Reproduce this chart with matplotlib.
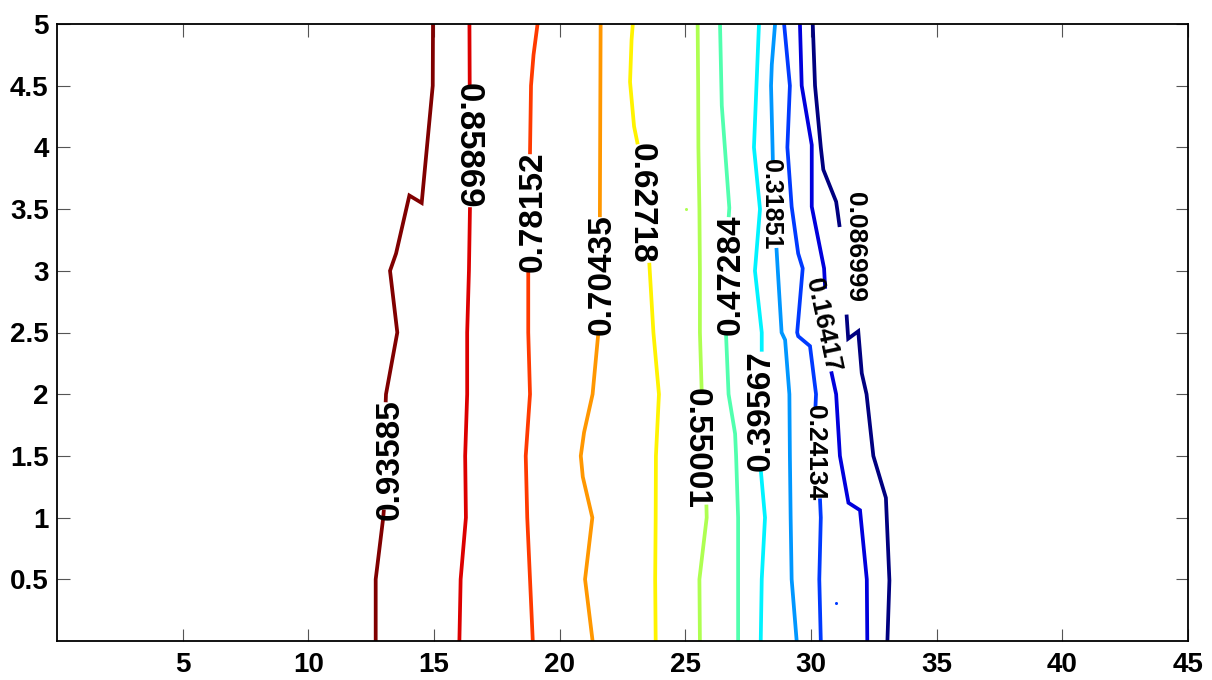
import matplotlib
matplotlib.use("Agg")
import matplotlib.pyplot as plt
import numpy as np

nan = np.nan

# contour levels (low -> high), jet colours
levels = [0.086999, 0.16417, 0.24134, 0.31851, 0.39567, 0.47284,
          0.55001, 0.62718, 0.70435, 0.78152, 0.85869, 0.93585]

# contour vertices, nan = gap where the label sits
x_l01 = [33.04, 33.12, 32.98, 32.48, 32.21, 32.02, 31.88, 31.48, 31.42, nan, 31.13, 31.05, 31.00, 30.49, 30.39, 30.16, 30.07]
y_l01 = [0.00, 0.49, 1.16, 1.50, 2.00, 2.17, 2.51, 2.45, 2.63, nan, 3.37, 3.49, 3.56, 3.82, 4.00, 4.50, 5.00]

x_l02 = [32.24, 32.22, 31.95, 31.49, 31.15, 31.00, 30.82, nan, 30.56, 30.52, 30.03, 30.03, 29.63, 29.56]
y_l02 = [0.00, 0.50, 1.06, 1.12, 1.50, 2.00, 2.17, nan, 2.87, 3.02, 3.52, 4.02, 4.50, 5.00]

x_l03 = [30.39, 30.33, 30.39, 30.36, nan, 30.18, 30.20, 29.96, 29.49, 29.45, 29.67, 29.49, 29.23, 29.06, 29.16, 28.93]
y_l03 = [0.00, 0.50, 1.00, 1.14, nan, 1.91, 2.00, 2.39, 2.47, 2.50, 3.02, 3.14, 3.52, 4.00, 4.50, 5.00]

x_l04 = [29.43, 29.23, 29.19, 29.16, 29.14, 28.97, 28.83, 28.68, 28.63, nan, 28.48, 28.47, 28.41, 28.44, 28.57]
y_l04 = [0.00, 0.50, 1.00, 1.50, 2.00, 2.44, 2.50, 3.00, 3.17, nan, 3.91, 4.00, 4.50, 4.67, 5.00]

x_l05 = [28.00, 28.04, 28.17, 28.00, nan, 28.04, 28.04, 27.77, 27.97, 27.73, 27.83, 27.93]
y_l05 = [0.00, 0.50, 1.00, 1.39, nan, 2.36, 2.50, 3.00, 3.50, 4.00, 4.50, 5.00]

x_l06 = [27.10, 27.10, 27.10, 27.02, 26.98, 26.72, 26.62, nan, 26.73, 26.75, 26.45, 26.38]
y_l06 = [0.00, 0.50, 1.00, 1.50, 1.68, 2.00, 2.48, nan, 3.45, 3.51, 4.34, 5.00]

x_l07 = [25.58, 25.56, 25.85, 25.84, nan, 25.65, 25.58, 25.58, 25.56, 25.52, 25.51, 25.49]
y_l07 = [0.00, 0.50, 1.00, 1.09, nan, 2.03, 2.50, 3.00, 3.50, 4.00, 4.50, 5.00]

x_l08 = [23.82, 23.80, 23.82, 23.83, 23.95, 23.73, 23.57, nan, 23.09, 22.96, 22.80, 22.86, 22.91]
y_l08 = [0.00, 0.50, 1.00, 1.50, 2.00, 2.50, 3.05, nan, 4.04, 4.17, 4.53, 4.87, 5.00]

x_l09 = [21.31, 21.01, 21.30, 20.92, 20.84, 20.97, 21.31, 21.54, nan, 21.60, 21.61, 21.62, 21.63]
y_l09 = [0.00, 0.50, 1.00, 1.33, 1.50, 1.69, 2.00, 2.50, nan, 3.45, 4.00, 4.50, 5.00]

x_l10 = [18.93, 18.82, 18.71, 18.65, 18.82, 18.75, 18.75, nan, 18.82, 18.86, 18.96, 19.12]
y_l10 = [0.00, 0.50, 1.00, 1.50, 2.00, 2.50, 2.99, nan, 3.96, 4.50, 4.75, 5.00]

x_l11 = [16.01, 16.06, 16.27, 16.24, 16.32, 16.32, 16.39, 16.43, nan, 16.42, 16.41]
y_l11 = [0.00, 0.50, 1.00, 1.50, 2.00, 2.50, 3.00, 3.50, nan, 4.52, 5.00]

x_l12 = [12.68, 12.68, 12.98, 13.00, nan, 13.08, 13.09, 13.54, 13.25, 13.49, 14.02, 14.51, 14.95, 14.96]
y_l12 = [0.00, 0.50, 1.00, 1.05, nan, 1.95, 2.00, 2.50, 3.00, 3.14, 3.61, 3.55, 4.50, 5.00]

# tiny isolated contour bits
stray_x = [25.01, 31.00]
stray_y = [3.50, 0.31]
stray_level = [6, 2]

# label placement (same order as levels)
label_x = [31.75, 30.48, 30.16, 28.41, 28.01, 26.82, 25.42, 23.24, 21.68, 18.94, 16.35, 13.25]
label_y = [3.19, 2.56, 1.53, 3.54, 1.87, 2.97, 1.56, 3.55, 2.97, 3.48, 4.01, 1.47]
label_rot = [-90, -78, -90, -90, 90, 90, -90, -90, 90, 90, -90, 90]
label_size = [19, 19, 19, 18, 24, 24, 24, 24, 24, 24, 25, 24]

x_ticks = [5, 10, 15, 20, 25, 30, 35, 40, 45]
y_ticks = [0.5, 1, 1.5, 2, 2.5, 3, 3.5, 4, 4.5, 5]

lines_x = [x_l01, x_l02, x_l03, x_l04, x_l05, x_l06, x_l07, x_l08, x_l09, x_l10, x_l11, x_l12]
lines_y = [y_l01, y_l02, y_l03, y_l04, y_l05, y_l06, y_l07, y_l08, y_l09, y_l10, y_l11, y_l12]


def matlab_jet(t):
    # MATLAB flavour of jet (differs a bit from matplotlib's)
    t = np.asarray(t)
    r = np.clip(np.minimum(4 * t - 1.5, -4 * t + 4.5), 0, 1)
    g = np.clip(np.minimum(4 * t - 0.5, -4 * t + 3.5), 0, 1)
    b = np.clip(np.minimum(4 * t + 0.5, -4 * t + 2.5), 0, 1)
    return np.stack([r, g, b], axis=-1)


plt.rcParams["font.family"] = ["Liberation Sans", "DejaVu Sans"]

fig = plt.figure(figsize=(12.12, 6.8), dpi=100)
ax = fig.add_axes([57 / 1212, 39 / 680, 1131 / 1212, 617 / 680])

colors = matlab_jet(np.linspace(0, 1, len(levels)))

for xs, ys, c in zip(lines_x, lines_y, colors):
    ax.plot(xs, ys, color=c, lw=2.7, solid_joinstyle="miter")

for sx, sy, li in zip(stray_x, stray_y, stray_level):
    ax.plot([sx], [sy], "o", color=colors[li], ms=2.2, mec="none")

for i, v in enumerate(levels):
    ax.text(label_x[i], label_y[i], str(v), rotation=label_rot[i],
            fontsize=label_size[i], fontweight="bold", color="black",
            ha="center", va="center", rotation_mode="anchor")

ax.set_xlim(0, 45)
ax.set_ylim(0, 5)
ax.set_xticks(x_ticks)
ax.set_yticks(y_ticks)
ax.set_xticklabels([str(t) for t in x_ticks])
ax.set_yticklabels([f"{t:g}" for t in y_ticks])

ax.tick_params(direction="in", length=9, width=0.8, color="#555555",
               top=True, right=True, labelsize=20, pad=6)
ax.tick_params(axis="x", pad=8)
for lab in ax.get_xticklabels() + ax.get_yticklabels():
    lab.set_fontweight("bold")

for s in ax.spines.values():
    s.set_linewidth(1.3)
    s.set_color("black")

fig.savefig("out.png", dpi=100)
